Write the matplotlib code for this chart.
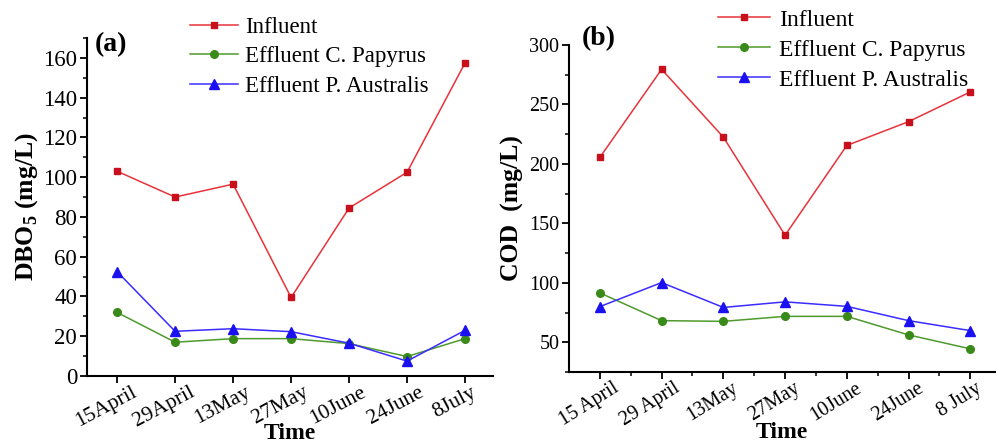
import numpy as np
import matplotlib
matplotlib.use('Agg')
import matplotlib.pyplot as plt
from matplotlib.transforms import ScaledTranslation

plt.rcParams['font.family'] = 'Liberation Serif'
plt.rcParams['mathtext.fontset'] = 'custom'
plt.rcParams['mathtext.rm'] = 'Liberation Serif'
plt.rcParams['mathtext.bf'] = 'Liberation Serif:bold'

dates_a = ['15April', '29April', '13May', '27May', '10June', '24June', '8July']
dates_b = ['15 April', '29 April', '13May', '27May', '10June', '24June', '8 July']

# DBO5 (mg/L)
dbo_influent = [103, 90, 96.5, 39.5, 84.5, 102.5, 157.5]
dbo_papyrus = [32, 17, 18.8, 18.8, 16.3, 9.8, 18.8]
dbo_australis = [52.5, 22.5, 23.8, 22.3, 16.5, 7.5, 23]

# COD (mg/L)
cod_influent = [205.5, 279.5, 222.5, 140, 215.5, 235.5, 260.5]
cod_papyrus = [91.5, 68.2, 67.6, 71.8, 71.8, 56.2, 44.5]
cod_australis = [80, 100.2, 79.3, 84, 80.2, 68.2, 59.8]

labels = ['Influent', 'Effluent C. Papyrus', 'Effluent P. Australis']
line_colors = ['#e8333a', '#4f9a2e', '#3a2cff']
mark_colors = ['#c8101c', '#3a8a1a', '#1a10f0']
markers = ['s', 'o', '^']
msizes = [4.5, 5.5, 6.5]

fig = plt.figure(figsize=(9.96, 4.45), dpi=100)
ax1 = fig.add_axes([0.0873, 0.155, 0.4076, 0.7596])
ax2 = fig.add_axes([0.5713, 0.164, 0.4277, 0.735])


def draw(ax, series, ticks, lab_fs, rot):
    x = np.arange(len(ticks))
    for s, lab, lc, mc, m, ms in zip(series, labels, line_colors, mark_colors, markers, msizes):
        ax.plot(x, s, color=lc, lw=1.1, marker=m, ms=ms, mfc=mc, mec=mc, label=lab)
    for sp in ['top', 'right']:
        ax.spines[sp].set_visible(False)
    for sp in ['left', 'bottom']:
        ax.spines[sp].set_linewidth(1.5)
    ax.set_xticks(x)
    ax.set_xticklabels(ticks, rotation=rot, ha='center')
    ax.tick_params(axis='both', which='major', direction='out', length=5, width=1.3,
                   labelsize=lab_fs, pad=2)
    ax.tick_params(axis='x', which='major', pad=0)
    ax.tick_params(axis='y', which='minor', direction='out', length=3, width=1.1)
    for lbl in ax.get_xticklabels():
        lbl.set_transform(lbl.get_transform() + ScaledTranslation(-0.11, 0, fig.dpi_scale_trans))


draw(ax1, [dbo_influent, dbo_papyrus, dbo_australis], dates_a, 16.5, 28)
ax1.set_xticklabels(dates_a, fontsize=15.5)
ax1.set_xlim(-0.52, 6.48)
ax1.set_ylim(0, 170)
ax1.set_yticks(np.arange(0, 161, 20))
ax1.set_yticks(np.arange(10, 171, 10), minor=True)
ax1.set_ylabel(r'DBO$_\mathbf{5}$ (mg/L)', fontsize=18.5, fontweight='bold', labelpad=2)
ax1.set_xlabel('Time', fontsize=17, fontweight='bold', va='bottom')
ax1.xaxis.set_label_coords(0.5, (376 - 444) / 338)
ax1.text(0.02, 0.98, '(a)', transform=ax1.transAxes, fontsize=20, fontweight='bold', va='center')
ax1.legend(loc='upper left', bbox_to_anchor=(190 / 996, 1 - 17 / 445), bbox_transform=fig.transFigure,
           frameon=False, fontsize=16.5, borderpad=0, borderaxespad=0, handlelength=2.1,
           handletextpad=0.3, labelspacing=0.36)

draw(ax2, [cod_influent, cod_papyrus, cod_australis], dates_b, 14.5, 32)
ax2.set_xlim(-0.5, 6.4)
ax2.set_ylim(25, 300)
ax2.set_yticks(np.arange(50, 301, 50))
ax2.set_yticks(np.arange(25, 301, 25), minor=True)
ax2.set_xticks(np.arange(0.5, 6.4, 1), minor=True)
ax2.tick_params(axis='x', which='minor', direction='out', length=3, width=1.1)
ax2.set_ylabel('COD  (mg/L)', fontsize=18.5, fontweight='bold', labelpad=4)
ax2.set_xlabel('Time', fontsize=17, fontweight='bold', va='bottom')
ax2.xaxis.set_label_coords(0.5, (372 - 443) / 327)
ax2.text(0.03, 1.02, '(b)', transform=ax2.transAxes, fontsize=20, fontweight='bold', va='center')
ax2.legend(loc='upper left', bbox_to_anchor=(718 / 996, 1 - 9 / 445), bbox_transform=fig.transFigure,
           frameon=False, fontsize=17, borderpad=0, borderaxespad=0, handlelength=2.2,
           handletextpad=0.4, labelspacing=0.36)

fig.savefig('out.png', dpi=100)
